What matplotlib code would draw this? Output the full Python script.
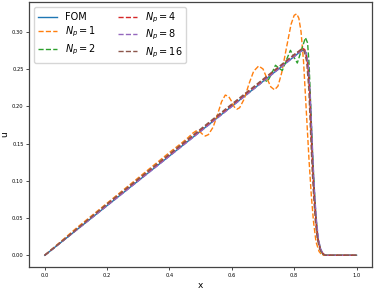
import matplotlib
matplotlib.use('Agg')
import matplotlib.pyplot as plt

# values
x_fom = [0.0, 0.2, 0.4, 0.6, 0.8, 0.82, 0.83, 0.838, 0.845, 0.852, 0.858, 0.862, 0.866, 0.871, 0.877, 0.884, 0.892, 0.9, 1.0]
u_fom = [0.0, 0.0667, 0.1333, 0.2, 0.2667, 0.2733, 0.276, 0.272, 0.256, 0.205, 0.142, 0.105, 0.075, 0.045, 0.022, 0.009, 0.002, 0.0, 0.0]

x_np1 = [0.0, 0.1, 0.2, 0.3, 0.4, 0.44, 0.46, 0.475, 0.486, 0.497, 0.507, 0.515, 0.525, 0.54, 0.555,
         0.567, 0.579, 0.59, 0.60, 0.608, 0.616, 0.625, 0.64, 0.655, 0.67, 0.686, 0.70, 0.712, 0.725,
         0.737, 0.748, 0.76, 0.775, 0.79, 0.80, 0.808, 0.815, 0.822, 0.83, 0.836, 0.842, 0.848, 0.855,
         0.862, 0.87, 0.88, 0.89, 1.0]
u_np1 = [0.0, 0.036, 0.07, 0.104, 0.138, 0.151, 0.158, 0.164, 0.167, 0.166, 0.162, 0.160, 0.162, 0.172, 0.190,
         0.206, 0.215, 0.213, 0.206, 0.199, 0.196, 0.198, 0.210, 0.230, 0.247, 0.254, 0.250, 0.238, 0.226,
         0.222, 0.227, 0.245, 0.278, 0.310, 0.322, 0.324, 0.318, 0.300, 0.260, 0.215, 0.170, 0.125, 0.080,
         0.045, 0.018, 0.005, 0.0, 0.0]

x_np2 = [0.0, 0.3, 0.6, 0.69, 0.702, 0.714, 0.727, 0.74, 0.751, 0.762, 0.775, 0.788, 0.799, 0.81, 0.823,
         0.836, 0.843, 0.848, 0.853, 0.858, 0.863, 0.869, 0.876, 0.885, 0.895, 1.0]
u_np2 = [0.0, 0.101, 0.201, 0.230, 0.236, 0.233, 0.243, 0.255, 0.251, 0.248, 0.262, 0.275, 0.266, 0.258, 0.275,
         0.292, 0.285, 0.255, 0.20, 0.145, 0.10, 0.055, 0.022, 0.006, 0.0, 0.0]

x_np4 = [0.0, 0.2, 0.4, 0.6, 0.8, 0.818, 0.826, 0.834, 0.842, 0.849, 0.855, 0.86, 0.865, 0.87, 0.876, 0.884, 0.893, 0.9, 1.0]
u_np4 = [0.0, 0.0675, 0.1345, 0.2015, 0.2685, 0.2745, 0.278, 0.276, 0.262, 0.225, 0.16, 0.112, 0.075, 0.045, 0.022, 0.008, 0.002, 0.0, 0.0]

x_np8 = [0.0, 0.2, 0.4, 0.6, 0.8, 0.82, 0.83, 0.839, 0.846, 0.853, 0.859, 0.863, 0.867, 0.872, 0.878, 0.885, 0.893, 0.9, 1.0]
u_np8 = [0.0, 0.0665, 0.133, 0.1995, 0.2665, 0.273, 0.2755, 0.271, 0.254, 0.20, 0.14, 0.103, 0.073, 0.044, 0.021, 0.008, 0.002, 0.0, 0.0]

x_np16 = [0.0, 0.2, 0.4, 0.6, 0.8, 0.815, 0.824, 0.832, 0.84, 0.847, 0.853, 0.858, 0.863, 0.868, 0.874, 0.882, 0.891, 0.9, 1.0]
u_np16 = [0.0, 0.069, 0.136, 0.203, 0.2695, 0.274, 0.277, 0.274, 0.26, 0.222, 0.16, 0.112, 0.075, 0.045, 0.022, 0.008, 0.002, 0.0, 0.0]

fig, ax = plt.subplots(figsize=(3.74, 2.90), dpi=100)
fig.subplots_adjust(left=0.078, right=0.995, top=0.994, bottom=0.078)

lw = 1.0
ax.plot(x_fom, u_fom, '-', color='C0', lw=lw, label='FOM')
ax.plot(x_np1, u_np1, '--', color='C1', lw=lw, label='$N_p = 1$')
ax.plot(x_np2, u_np2, '--', color='C2', lw=lw, label='$N_p = 2$')
ax.plot(x_np4, u_np4, '--', color='C3', lw=lw, label='$N_p = 4$')
ax.plot(x_np8, u_np8, '--', color='C4', lw=lw, label='$N_p = 8$')
ax.plot(x_np16, u_np16, '--', color='C5', lw=lw, label='$N_p = 16$')

ax.set_xlabel('x', fontsize=6.5, labelpad=2)
ax.set_ylabel('u', fontsize=6.5, labelpad=2)
ax.tick_params(labelsize=3.7, length=2, width=0.5, pad=2)
for s in ax.spines.values():
    s.set_linewidth(0.9)
    s.set_color('#444444')

ax.legend(loc='upper left', ncol=2, fontsize=7, handlelength=2, columnspacing=2.2,
          labelspacing=0.3, borderpad=0.4)

fig.savefig('out.png', dpi=100)
